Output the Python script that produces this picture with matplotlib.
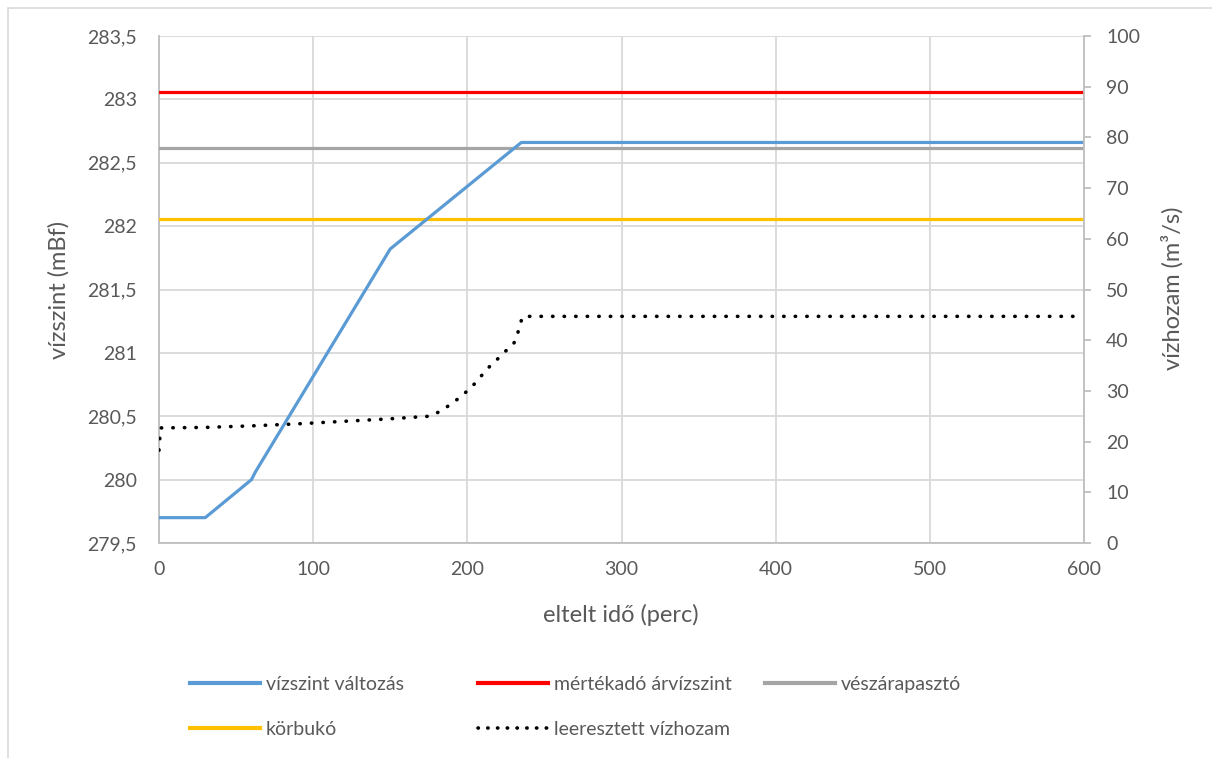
import matplotlib.pyplot as plt
from matplotlib.patches import Rectangle
from matplotlib.lines import Line2D
from matplotlib.ticker import FuncFormatter, MultipleLocator

plt.rcParams["font.family"] = ["Lato", "DejaVu Sans"]

# --- adatok ---
# vízszint változás (bal tengely, mBf)
t_szint = [0, 30, 60, 62.5, 150, 235, 600]
vizszint = [279.7, 279.7, 280.0, 280.06, 281.82, 282.66, 282.66]

# állandó szintek (mBf)
t_const = [0, 600]
mertekado = 283.06
veszarapaszto = 282.62
korbuko = 282.06

# leeresztett vízhozam (jobb tengely, m3/s)
t_hozam = [0, 1, 30, 60, 90, 120, 150, 175, 180, 185, 190, 195, 200, 205,
           210, 215, 220, 225, 230, 232, 234, 236, 600]
vizhozam = [18.3, 22.7, 22.8, 23.1, 23.5, 24.0, 24.5, 25.0, 25.6, 26.5, 27.5,
            28.7, 30.0, 31.5, 33.3, 35.0, 36.4, 37.9, 39.3, 40.5, 43.0, 44.7,
            44.7]

labels = ["vízszint változás", "mértékadó árvízszint", "vészárapasztó",
          "körbukó", "leeresztett vízhozam"]

# --- színek ---
c_blue, c_red, c_gray, c_yellow = "#5b9bd5", "#ff0000", "#a5a5a5", "#ffc000"
c_text = "#595959"
c_grid = "#d9d9d9"
c_axis = "#bfbfbf"

W, H = 1212, 758
fig = plt.figure(figsize=(W / 100, H / 100), dpi=100)

# külső keret (Excel diagramterület)
fig.patches.append(Rectangle((8 / W, -0.1), 1.2, 1 - 8 / H + 0.1,
                             transform=fig.transFigure, fill=False,
                             edgecolor=c_grid, lw=1.2))

ax = fig.add_axes([159 / W, 1 - 543 / H, (1084 - 159) / W, (543 - 36) / H])
ax2 = ax.twinx()

lw = 2.3
ax.plot(t_szint, vizszint, color=c_blue, lw=lw, zorder=5)
ax.plot(t_const, [mertekado] * 2, color=c_red, lw=lw, zorder=4)
ax.plot(t_const, [veszarapaszto] * 2, color=c_gray, lw=lw, zorder=3)
ax.plot(t_const, [korbuko] * 2, color=c_yellow, lw=lw, zorder=3)
dot_style = dict(color="black", lw=2.6, linestyle=(0, (0.1, 3.1)),
                 dash_capstyle="round")
ax2.plot(t_hozam, vizhozam, **dot_style)

ax.set_xlim(0, 600)
ax.set_ylim(279.5, 283.5)
ax2.set_ylim(0, 100)
ax.xaxis.set_major_locator(MultipleLocator(100))
ax.yaxis.set_major_locator(MultipleLocator(0.5))
ax2.yaxis.set_major_locator(MultipleLocator(10))
ax.yaxis.set_major_formatter(FuncFormatter(lambda v, p: f"{v:g}".replace(".", ",")))

ax.grid(True, color=c_grid, lw=1.3)
ax.set_axisbelow(True)

for a in (ax, ax2):
    for s in a.spines.values():
        s.set_visible(False)
ax.spines["left"].set_visible(True)
ax.spines["bottom"].set_visible(True)
ax2.spines["right"].set_visible(True)
for s in (ax.spines["left"], ax.spines["bottom"], ax2.spines["right"]):
    s.set_color(c_axis)
    s.set_linewidth(1.3)

fs = 14
ax.tick_params(axis="x", length=0, pad=13, labelsize=fs, labelcolor=c_text)
ax.tick_params(axis="y", length=0, pad=16, labelsize=fs, labelcolor=c_text)
ax2.tick_params(axis="y", length=5, width=1.3, color=c_axis, pad=11,
                labelsize=fs, labelcolor=c_text)

fl = 17
fig.text(621 / W, 1 - 615 / H, "eltelt idő (perc)", ha="center", va="center",
         fontsize=fl, color=c_text)
fig.text(59 / W, 1 - 290 / H, "vízszint (mBf)", ha="center", va="center",
         rotation=90, fontsize=fl, color=c_text)
fig.text(1172 / W, 1 - 288 / H, "vízhozam (m³/s)", ha="center", va="center",
         rotation=90, fontsize=fl, color=c_text)

# --- jelmagyarázat: három egyenlő szélességű oszlop ---
h_blue = Line2D([], [], color=c_blue, lw=3)
h_red = Line2D([], [], color=c_red, lw=3)
h_gray = Line2D([], [], color=c_gray, lw=3)
h_yel = Line2D([], [], color=c_yellow, lw=3)
h_dot = Line2D([], [], color="black", lw=2.6, linestyle=(0, (0.1, 2.6)),
               dash_capstyle="round")
columns = [([h_blue, h_yel], [labels[0], labels[3]], 190),
           ([h_red, h_dot], [labels[1], labels[4]], 478),
           ([h_gray], [labels[2]], 765)]
for handles, labs, x0 in columns:
    leg = fig.legend(handles, labs, loc="upper left",
                     bbox_to_anchor=(x0 / W, 1 - 676 / H), frameon=False,
                     fontsize=fs, handlelength=3.6, handletextpad=0.3,
                     labelspacing=1.45, borderpad=0, borderaxespad=0)
    for t in leg.get_texts():
        t.set_color(c_text)

fig.savefig("out.png", dpi=100)
